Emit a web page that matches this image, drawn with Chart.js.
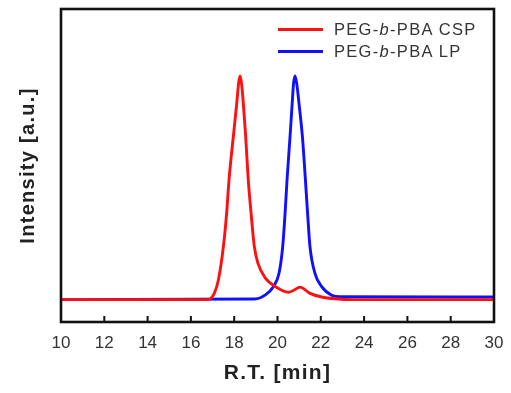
<!DOCTYPE html>
<html>
<head>
<meta charset="utf-8">
<script src="https://cdn.jsdelivr.net/npm/chart.js@4/dist/chart.umd.min.js"></script>
<style>
  html, body { margin: 0; padding: 0; background: #fff; }
  #wrap { position: relative; width: 511px; height: 393px; }
  #c { position: absolute; left: 0; top: 0; }
  .lg-line { position: absolute; height: 3px; width: 45px; left: 278px; }
  .lg-text { position: absolute; left: 334px; font-family: "Liberation Sans", Arial, sans-serif;
             font-size: 16.5px; letter-spacing: 1.3px; color: #333; line-height: 20px; white-space: nowrap; }
</style>
</head>
<body>
<div id="wrap">
  <canvas id="c" width="511" height="393"></canvas>
  <div class="lg-line" style="top:28px;background:#ff1010;"></div>
  <div class="lg-text" style="top:19px;">PEG-<i>b</i>-PBA CSP</div>
  <div class="lg-line" style="top:50px;background:#1010ff;"></div>
  <div class="lg-text" style="top:41px;">PEG-<i>b</i>-PBA LP</div>
</div>
<script>
// ---- Data ----
const seriesNames = ["PEG-b-PBA CSP", "PEG-b-PBA LP"];
const rtCSP = [10, 16.7, 16.88, 17.08, 17.27, 17.5, 17.65, 17.76, 17.96, 18.12, 18.2, 18.27, 18.34, 18.42, 18.53, 18.65, 18.78, 18.93, 19.1, 19.45, 19.9, 20.5, 20.75, 21.04, 21.5, 22.04, 22.66, 23.5, 30];
const intensityCSP = [0, 0, 0.003, 0.028, 0.088, 0.237, 0.386, 0.535, 0.73, 0.88, 0.965, 1.0, 0.965, 0.88, 0.73, 0.535, 0.386, 0.237, 0.162, 0.095, 0.058, 0.033, 0.042, 0.056, 0.028, 0.012, 0.004, 0, 0];
const rtLP = [10, 18.96, 19.42, 19.81, 20.07, 20.24, 20.35, 20.44, 20.58, 20.68, 20.74, 20.81, 20.89, 20.99, 21.15, 21.29, 21.39, 21.5, 21.73, 22.04, 22.5, 22.9, 30];
const intensityLP = [0, 0.003, 0.02, 0.058, 0.118, 0.237, 0.386, 0.535, 0.73, 0.88, 0.965, 1.0, 0.965, 0.88, 0.73, 0.535, 0.386, 0.237, 0.118, 0.058, 0.02, 0.013, 0.012];
const xTickMin = 10, xTickMax = 30, xTickStep = 2;

const toPoints = (xs, ys) => xs.map((x, i) => ({ x: x, y: ys[i] }));

const frameAndTicks = {
  id: 'frameAndTicks',
  beforeDraw(chart) {
    Object.values(chart.scales).forEach(s => {
      if (!s._lsPatched) {
        const orig = s.drawTitle.bind(s);
        s.drawTitle = function () {
          const ctx = chart.ctx;
          ctx.save();
          ctx.letterSpacing = '1.3px';
          orig();
          ctx.restore();
        };
        s._lsPatched = true;
      }
    });
  },
  afterDraw(chart) {
    const { ctx, chartArea: a } = chart;
    const xs = chart.scales.x;
    ctx.save();
    ctx.strokeStyle = '#111';
    ctx.lineWidth = 2;
    xs.ticks.forEach(t => {
      const px = xs.getPixelForValue(t.value);
      ctx.beginPath();
      ctx.moveTo(px, a.bottom);
      ctx.lineTo(px, a.bottom - 6);
      ctx.stroke();
    });
    ctx.lineWidth = 2.6;
    ctx.strokeRect(a.left, a.top, a.right - a.left, a.bottom - a.top);
    ctx.restore();
  }
};

new Chart(document.getElementById('c'), {
  type: 'line',
  data: {
    datasets: [
      { label: seriesNames[0], data: toPoints(rtCSP, intensityCSP), borderColor: '#ff1010',
        borderWidth: 2.9, pointRadius: 0, cubicInterpolationMode: 'monotone', fill: false },
      { label: seriesNames[1], data: toPoints(rtLP, intensityLP), borderColor: '#1010ff',
        borderWidth: 2.9, pointRadius: 0, cubicInterpolationMode: 'monotone', fill: false }
    ]
  },
  options: {
    responsive: false,
    animation: false,
    events: [],
    layout: { padding: { top: 9, right: 17, left: 0, bottom: 0 } },
    plugins: { legend: { display: false }, tooltip: { enabled: false } },
    scales: {
      x: {
        type: 'linear', min: xTickMin, max: xTickMax,
        afterFit: s => { s.height = 71; s.paddingLeft = 0; s.paddingRight = 0; },
        ticks: { stepSize: xTickStep, color: '#333', padding: 11,
                 font: { family: '"Liberation Sans", Arial, sans-serif', size: 17 } },
        grid: { display: false, drawTicks: false },
        border: { display: false },
        title: { display: true, text: 'R.T. [min]', color: '#222',
                 font: { family: '"Liberation Sans", Arial, sans-serif', size: 21, weight: 'bold' },
                 padding: { top: 0, bottom: 7 } }
      },
      y: {
        type: 'linear', min: -0.1, max: 1.3,
        afterFit: s => { s.width = 61; },
        ticks: { display: false },
        grid: { display: false, drawTicks: false },
        border: { display: false },
        title: { display: true, text: 'Intensity [a.u.]', color: '#222',
                 font: { family: '"Liberation Sans", Arial, sans-serif', size: 20, weight: 'bold' },
                 padding: { top: 16, bottom: 0 } }
      }
    }
  },
  plugins: [frameAndTicks]
});
</script>
</body>
</html>
